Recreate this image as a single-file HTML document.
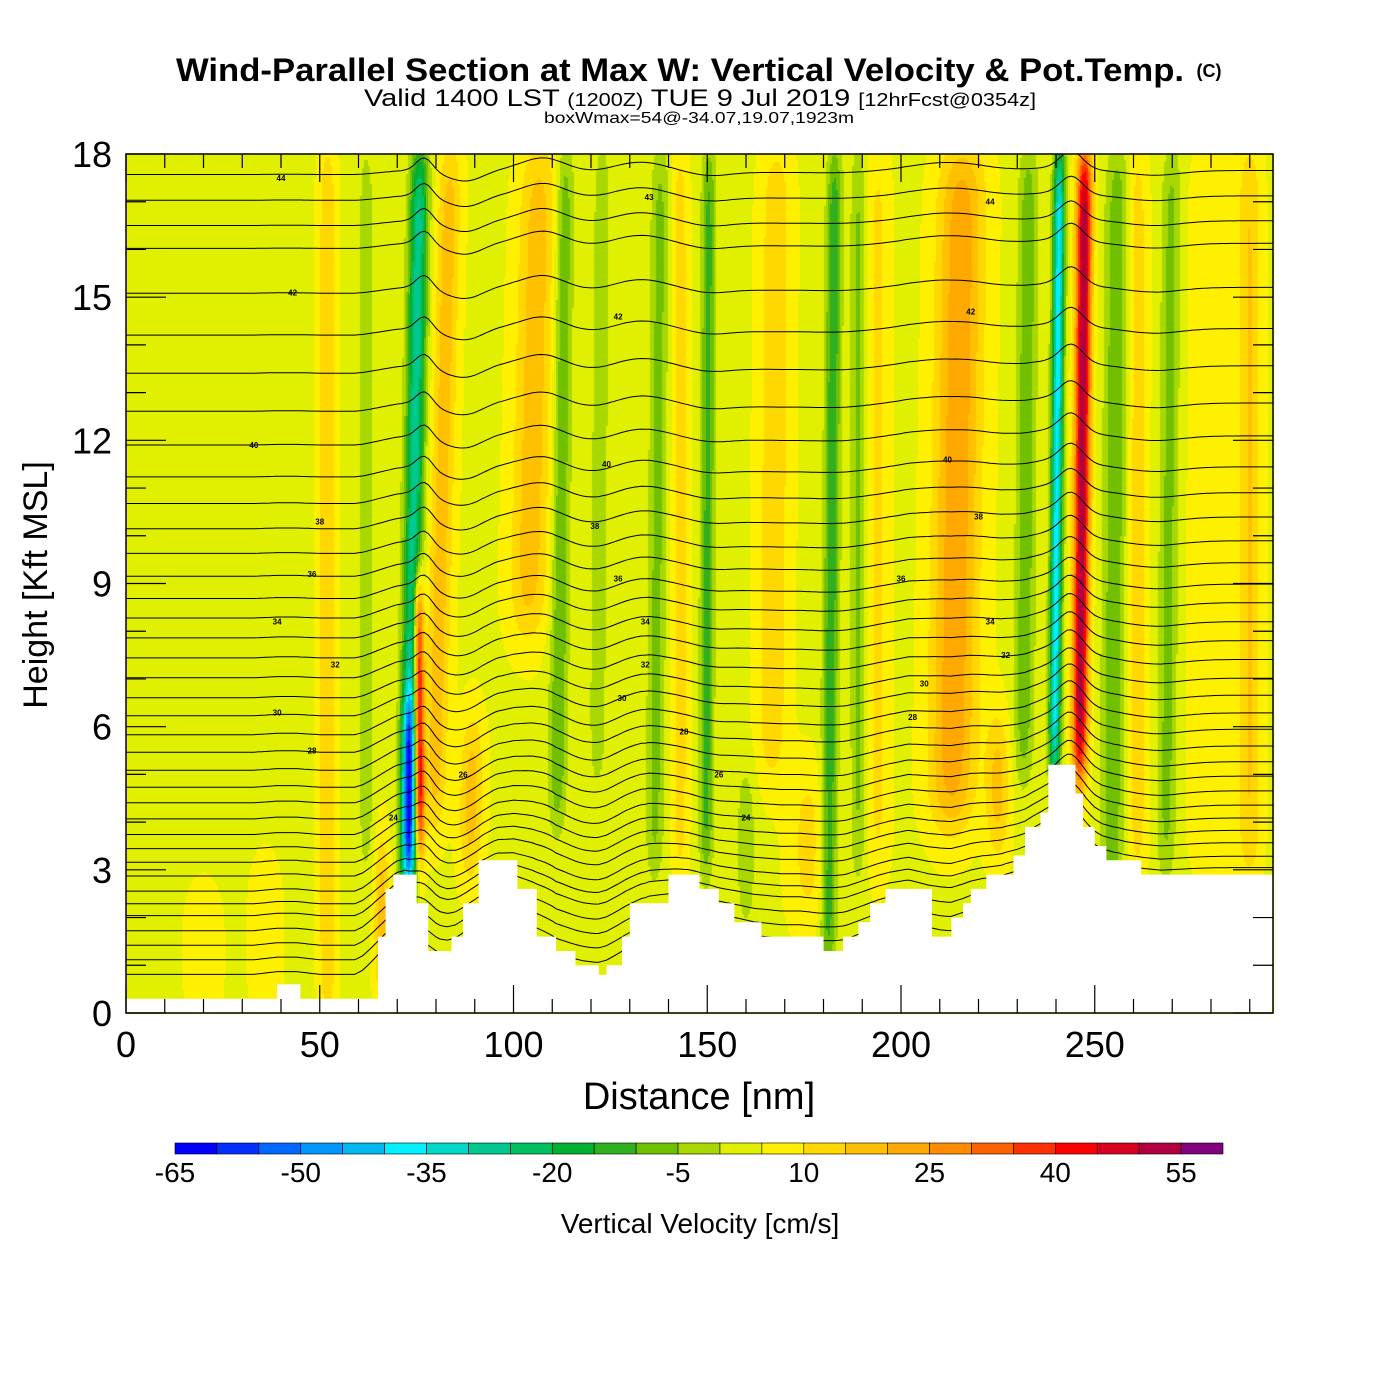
<!DOCTYPE html>
<html><head><meta charset="utf-8">
<style>
html,body{margin:0;padding:0;background:#fff;}
#wrap{position:relative;width:1400px;height:1400px;overflow:hidden;background:#fff;}
canvas{position:absolute;left:0;top:0;}
svg{position:absolute;left:0;top:0;}
text{font-family:"Liberation Sans",sans-serif;}
</style></head>
<body>
<div id="wrap">
<canvas id="field" width="1400" height="1400"></canvas>
<svg id="svg" width="1400" height="1400" xmlns="http://www.w3.org/2000/svg">
<text x="680" y="81" text-anchor="middle" font-size="32" font-weight="bold" textLength="1008" lengthAdjust="spacingAndGlyphs">Wind-Parallel Section at Max W: Vertical Velocity &amp; Pot.Temp.</text>
<text x="1209" y="77" text-anchor="middle" font-size="18" font-weight="bold">(C)</text>
<text x="700" y="106" text-anchor="middle" font-size="24" textLength="672" lengthAdjust="spacingAndGlyphs">Valid 1400 LST <tspan font-size="18">(1200Z)</tspan> TUE 9 Jul 2019 <tspan font-size="18">[12hrFcst@0354z]</tspan></text>
<text x="699" y="123" text-anchor="middle" font-size="16" textLength="310" lengthAdjust="spacingAndGlyphs">boxWmax=54@-34.07,19.07,1923m</text>
<defs><clipPath id="pc"><rect x="126" y="154" width="1147" height="859"/></clipPath></defs>
<g id="contours" clip-path="url(#pc)"></g>
<g id="terrain" clip-path="url(#pc)"></g>
<g id="axes"></g>
<text x="699" y="1109" text-anchor="middle" font-size="38">Distance [nm]</text>
<text transform="translate(47,585) rotate(-90)" text-anchor="middle" font-size="34">Height [Kft MSL]</text>
<g id="cbar"></g>
<text x="700" y="1233" text-anchor="middle" font-size="28">Vertical Velocity [cm/s]</text>
</svg>
</div>
<script>
// ---- data ----
const cbarLevels=[-65,-60,-55,-50,-45,-40,-35,-30,-25,-20,-15,-10,-5,0,5,10,15,20,25,30,35,40,45,50,55,60];
const cbarColors=["#0000ff","#0030ff","#0068ff","#0098ff","#00b8f0","#00f0ff","#00d8c8","#00c890","#00c060","#00b030","#30b020","#70c000","#a8d800","#e0f000","#fff000","#ffd800","#ffc000","#ffa800","#ff8c00","#ff6000","#ff3000","#ff0000","#d80020","#b00040","#800080"];
const cbarTickLabels=[-65,-50,-35,-20,-5,10,25,40,55];
const xTicks=[0,50,100,150,200,250];
const yTicks=[0,3,6,9,12,15,18];
const baseW=4;
// streaks: center nm (at 9 kft), tilt nm/kft, amplitude cm/s, width nm, bottom kft, top kft
const streakX   =[74, 75.5, 81, 52, 62, 104, 112, 122, 137, 143, 150, 167, 182, 189, 194, 214, 232, 240, 246.5, 255, 261, 269, 290, 73, 36, 20, 90, 160, 176, 225, 280, 66];
const streakTilt=[0.2,-0.05,0.3,0, 0, 0.3, 0.15, 0.1, 0.1, 0, 0.05, 0.1, 0.1, 0, 0, 0.2, 0.1, 0.1, 0.1, 0.1, 0, 0.1, 0, 0, 0, 0, 0.2, 0, 0, 0, 0, 0];
const streakAmp =[-32, 48, 14, 11, -7, 14, -14, -9, -11, 9, -16, 10, -18, -10, 7, 20, -13, -42, 50, -13, 9, -11, 11, -38, 5, 4, 14, -8, 8, 14, 4, 14];
const streakWid =[2.4, 1.3, 3, 2.2, 2, 5, 2.3, 2, 2.3, 2, 1.8, 4, 2, 2, 3, 6, 2.5, 1.5, 2, 3, 2.5, 2.5, 3, 1.6, 4, 5, 3, 2.5, 5, 3, 6, 2];
const streakBot =[2.5, 3.5, 4, 0, 3, 8, 4, 5, 3, 3, 3, 5, 1, 3, 3, 4, 5, 5, 5, 2.5, 3, 3, 3, 2.8, 0, 0, 3, 2, 2, 3.5, 3, 0.5];
const streakTop =[18, 9, 18, 18, 18, 18, 18, 18, 18, 18, 18, 18, 18, 18, 18, 18, 18, 18, 18, 18, 18, 18, 18, 6.5, 3, 2.5, 6, 5, 5, 6, 18, 3.5];
// terrain: segment start nm and height kft
const terrX=[0,39,45,65,67,69,75,78,84,87,91,101,106,111,116,122,124,128,130,140,148,153,157,164,180,185,189,192,196,200,208,213,216,218,222,229,232,236,238,245,247,250,253,262,296];
const terrH=[0.3,0.6,0.3,1.6,2.6,2.9,2.3,1.3,1.6,2.3,3.2,2.6,1.6,1.3,1.0,0.8,1.0,1.6,2.3,2.9,2.6,2.3,1.9,1.6,1.3,1.6,1.9,2.3,2.6,2.6,1.6,2.0,2.3,2.6,2.9,3.3,3.9,4.2,5.2,4.6,3.9,3.5,3.2,2.9,2.9];
// isentrope heights at left edge (kft)
const thetaBase=[17.56,17.02,16.49,16.01,15.07,14.19,13.39,12.59,11.88,11.21,10.65,10.12,9.60,9.12,8.65,8.24,7.82,7.40,6.98,6.56,6.18,5.78,5.41,5.03,4.67,4.34,4.00,3.67,3.37,3.08,2.79,2.47,2.20,1.95,1.63,1.32,1.01,0.7];
// isentrope bumps: center nm, amplitude kft, width nm
const bumpX=[77,88,108,132,150,212,244,265];
const bumpAmp=[0.3,-0.2,0.3,0.2,-0.1,0.2,0.35,-0.1];
const bumpWid=[3,6,8,10,8,12,4,10];
const contourLabels=[[40,17.5,"44"],[43,15.1,"42"],[33,11.9,"40"],[50,10.3,"38"],[48,9.2,"36"],[39,8.2,"34"],[54,7.3,"32"],[39,6.3,"30"],[48,5.5,"28"],[69,4.1,"24"],[87,5.0,"26"],[135,17.1,"43"],[127,14.6,"42"],[124,11.5,"40"],[121,10.2,"38"],[127,9.1,"36"],[134,8.2,"34"],[134,7.3,"32"],[128,6.6,"30"],[144,5.9,"28"],[153,5.0,"26"],[160,4.1,"24"],[223,17.0,"44"],[218,14.7,"42"],[212,11.6,"40"],[220,10.4,"38"],[200,9.1,"36"],[223,8.2,"34"],[227,7.5,"32"],[206,6.9,"30"],[203,6.2,"28"]];

// ---- scales ----
const PX0=126,PX1=1273,PY0=1013,PY1=154,XMAX=296,YMAX=18;
const xs=v=>PX0+v*(PX1-PX0)/XMAX;
const ys=h=>PY0-h*(PY0-PY1)/YMAX;
const NS="http://www.w3.org/2000/svg";
function mk(tag,attrs,parent){const e=document.createElementNS(NS,tag);for(const k in attrs)e.setAttribute(k,attrs[k]);parent.appendChild(e);return e;}
function sig(t){return 1/(1+Math.exp(-t));}
function wAt(x,y){let w=baseW;for(let i=0;i<streakX.length;i++){const c=streakX[i]+streakTilt[i]*(y-9);const d=(x-c)/streakWid[i];if(Math.abs(d)>4)continue;w+=streakAmp[i]*Math.exp(-d*d)*sig((y-streakBot[i])/0.4)*sig((streakTop[i]-y)/0.4);}return w;}
function colorFor(w){let k=Math.floor((w-cbarLevels[0])/5);k=Math.max(0,Math.min(cbarColors.length-1,k));return cbarColors[k];}
function terrAt(x){let h=terrH[0];for(let i=0;i<terrX.length;i++){if(x>=terrX[i])h=terrH[i];}return h;}

// ---- field ----
const ctx=document.getElementById('field').getContext('2d');
const step=2;
for(let px=PX0;px<PX1;px+=step){for(let py=PY1;py<PY0;py+=step){const x=(px+1-PX0)*XMAX/(PX1-PX0);const y=(PY0-py-1)*YMAX/(PY0-PY1);ctx.fillStyle=colorFor(wAt(x,y));ctx.fillRect(px,py,step,step);}}

// ---- contours ----
const cg=document.getElementById('contours');
function smoothTerr(x){let s=0,n=0;for(let d=-5;d<=5;d++){s+=terrAt(x+d);n++;}return s/n;}
thetaBase.forEach((b,j)=>{
  let d="";
  for(let x=0;x<=XMAX;x+=1){
    let h=b;
    for(let i=0;i<bumpX.length;i++){const t=(x-bumpX[i])/bumpWid[i];h+=bumpAmp[i]*Math.exp(-t*t)*Math.min(1,b/4);}
    h+=0.4*smoothTerr(x)*Math.exp(-b/7);
    d+=(x?"L":"M")+xs(x).toFixed(1)+","+ys(h).toFixed(1);
  }
  const p=mk('path',{d:d,fill:'none',stroke:'#000','stroke-width':1},cg);
  
  
});
contourLabels.forEach(l=>{
  const t=mk('text',{x:xs(l[0]),y:ys(l[1])+3,'font-size':8,'text-anchor':'middle','font-weight':'bold'},cg);
  t.textContent=l[2];
  
  
});

// ---- terrain ----
const tg=document.getElementById('terrain');
let td="M"+xs(0)+","+(PY0+2);
for(let i=0;i<terrX.length-1;i++){td+="L"+xs(terrX[i]).toFixed(1)+","+ys(terrH[i]).toFixed(1)+"L"+xs(terrX[i+1]).toFixed(1)+","+ys(terrH[i]).toFixed(1);}
td+="L"+xs(XMAX)+","+(PY0+2)+"Z";
const tp=mk('path',{d:td,fill:'#fff',stroke:'none'},tg);



// ---- axes ----
const ag=document.getElementById('axes');
const frame=mk('rect',{x:PX0,y:PY1,width:PX1-PX0,height:PY0-PY1,fill:'none',stroke:'#000','stroke-width':1.5},ag);


for(let v=0;v<=XMAX;v+=10){const X=xs(v);const L=(v%50===0)?28:14;
  mk('line',{x1:X,y1:PY0,x2:X,y2:PY0-L,stroke:'#000','stroke-width':1.2},ag);
  mk('line',{x1:X,y1:PY1,x2:X,y2:PY1+L,stroke:'#000','stroke-width':1.2},ag);}
for(let h=0;h<=YMAX;h+=1){const Y=ys(h);const L=(h%3===0)?40:20;
  mk('line',{x1:PX0,y1:Y,x2:PX0+L,y2:Y,stroke:'#000','stroke-width':1.2},ag);
  mk('line',{x1:PX1,y1:Y,x2:PX1-L,y2:Y,stroke:'#000','stroke-width':1.2},ag);}
xTicks.forEach(v=>{const t=mk('text',{x:xs(v),y:1057,'font-size':36,'text-anchor':'middle'},ag);t.textContent=v;
  
  });
yTicks.forEach(v=>{const t=mk('text',{x:112,y:ys(v)+13,'font-size':36,'text-anchor':'end'},ag);t.textContent=v;
  
  });

// ---- colorbar ----
const cb=document.getElementById('cbar');
const CB0=175,CB1=1223,CBY=1143,CBH=11;
const cbx=v=>CB0+(v-cbarLevels[0])*(CB1-CB0)/(cbarLevels[cbarLevels.length-1]-cbarLevels[0]);
cbarColors.forEach((c,i)=>{const r=mk('rect',{x:cbx(cbarLevels[i]),y:CBY,width:cbx(cbarLevels[i+1])-cbx(cbarLevels[i]),height:CBH,fill:c,stroke:'#000','stroke-width':0.6},cb);
  
  });
cbarTickLabels.forEach(v=>{const t=mk('text',{x:cbx(v),y:1182,'font-size':28,'text-anchor':'middle'},cb);t.textContent=v;
  
  });
</script>
</body></html>
